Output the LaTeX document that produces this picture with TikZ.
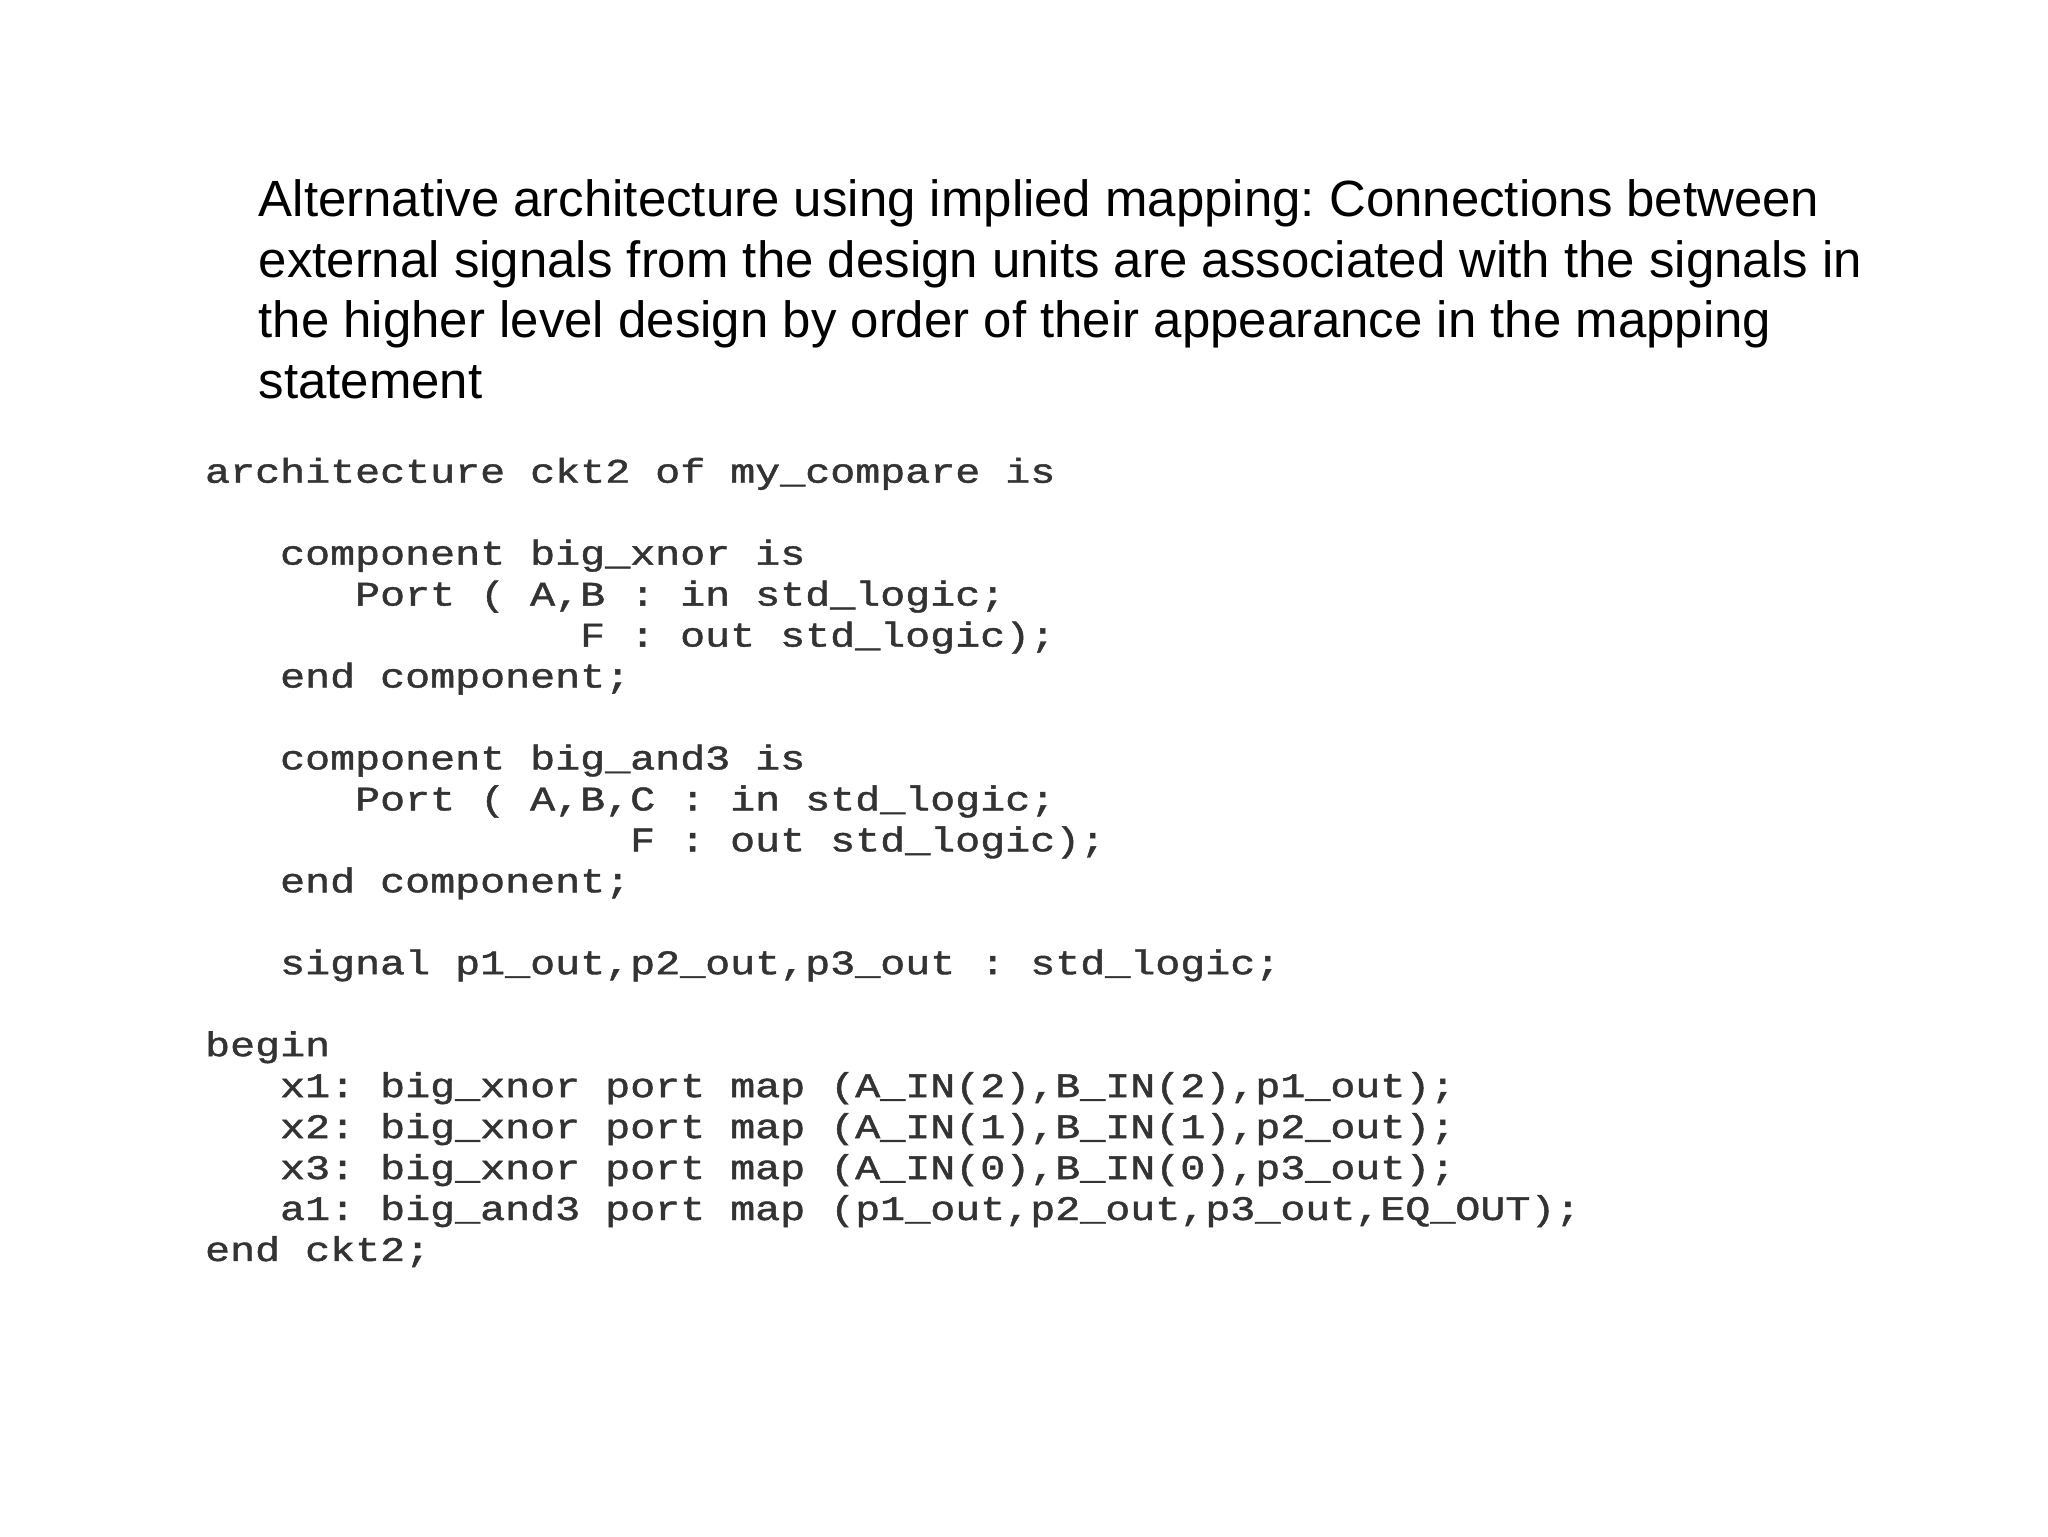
\documentclass[tikz,border=0pt]{standalone}
\usepackage{fontspec}
\usepackage{graphicx}
\setmainfont{Liberation Sans}
\newfontfamily\codefont[FakeBold=1.2]{Liberation Mono}
\usepackage{tikz}
\usetikzlibrary{positioning}
\frenchspacing
\newcommand{\codewide}[1]{\scalebox{1.21}[1]{#1}}
\tikzset{
  titleline/.style={anchor=base west, inner sep=0pt, font=\fontsize{14.5}{17.4}\selectfont, text=black},
  codeline/.style={anchor=base west, inner sep=0pt, font=\fontsize{9.8}{11.6}\codefont, text=black!80},
}

\begin{document}
\begin{tikzpicture}[x=0.1mm, y=-0.1mm]
  \useasboundingbox[fill=white] (0,0) rectangle (2048,1536);

  % heading text
  \node[titleline] (title1) at (258,216) {Alternative architecture using implied mapping: Connections between};
  \node[titleline] (title2) at (258,277) {external signals from the design units are associated with the signals in};
  \node[titleline] (title3) at (258,337) {the higher level design by order of their appearance in the mapping};
  \node[titleline] (title4) at (258,398) {statement};

  % code listing: row / column / text
  \foreach \row/\col/\txt in {
      0/0/{architecture ckt2 of my\_compare is},
      2/3/{component big\_xnor is},
      3/6/{Port ( A,B : in std\_logic;},
      4/15/{F : out std\_logic);},
      5/3/{end component;},
      7/3/{component big\_and3 is},
      8/6/{Port ( A,B,C : in std\_logic;},
      9/17/{F : out std\_logic);},
      10/3/{end component;},
      12/3/{signal p1\_out,p2\_out,p3\_out : std\_logic;},
      14/0/{begin},
      15/3/{x1: big\_xnor port map (A\_IN(2),B\_IN(2),p1\_out);},
      16/3/{x2: big\_xnor port map (A\_IN(1),B\_IN(1),p2\_out);},
      17/3/{x3: big\_xnor port map (A\_IN(0),B\_IN(0),p3\_out);},
      18/3/{a1: big\_and3 port map (p1\_out,p2\_out,p3\_out,EQ\_OUT);},
      19/0/{end ckt2;}}
    \node[codeline] (code\row) at ({204.4+\col*25}, {482.7+\row*40.96}) {\codewide{\txt}};

\end{tikzpicture}
\end{document}
